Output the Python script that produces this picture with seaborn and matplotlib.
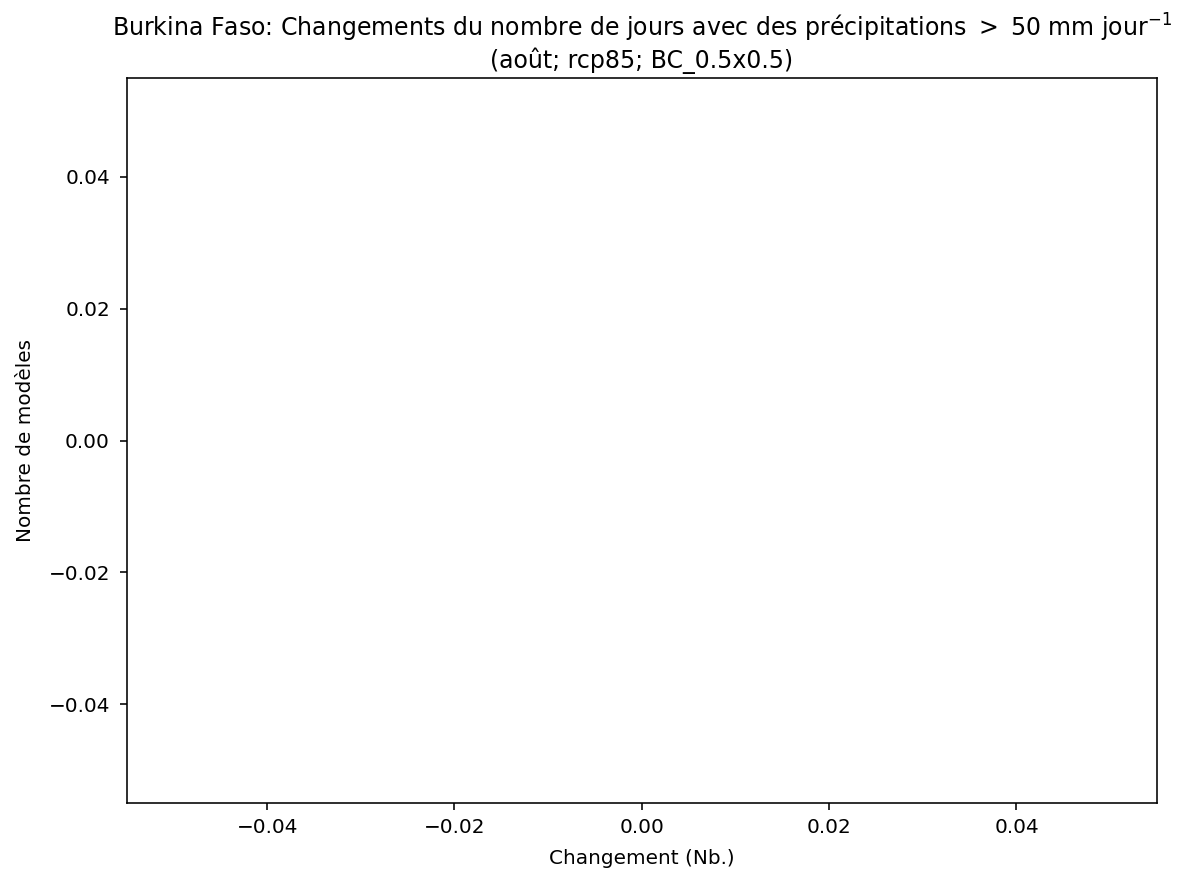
import numpy as np
import pandas as pd
import matplotlib
matplotlib.use('Agg')
import matplotlib.pyplot as plt
import seaborn as sns

# no model gives a change for this month / threshold -> empty series
changes = []
country = 'Burkina Faso'
month = 'août'
scenario = 'rcp85'
grid = 'BC_0.5x0.5'

plt.rcParams['font.family'] = ['DejaVu Sans']
plt.rcParams['axes.linewidth'] = 1.15
plt.rcParams['xtick.major.width'] = 1.15
plt.rcParams['ytick.major.width'] = 1.15
plt.rcParams['xtick.major.size'] = 5
plt.rcParams['ytick.major.size'] = 5

fig, ax = plt.subplots(figsize=(11.83, 8.71), dpi=100)
fig.subplots_adjust(left=0.107, right=0.978, top=0.9105, bottom=0.078)

df = pd.DataFrame({'change': np.array(changes, dtype=float)})
if len(df):
    sns.histplot(data=df, x='change', ax=ax)

ax.set_xlim(-0.055, 0.055)
ax.set_ylim(-0.055, 0.055)
ax.set_xticks([-0.04, -0.02, 0.0, 0.02, 0.04])
ax.set_yticks([-0.04, -0.02, 0.0, 0.02, 0.04])
ax.tick_params(axis='x', labelsize=14.4, pad=6)
ax.tick_params(axis='y', labelsize=14.4, pad=7)

ax.set_title(f'{country}: Changements du nombre de jours avec des précipitations $>$ 50 mm jour$^{{-1}}$\n'
             f'({month}; {scenario}; {grid})',
             fontsize=17, pad=7)
ax.set_xlabel('Changement (Nb.)', fontsize=14.4, labelpad=8.5)
ax.set_ylabel('Nombre de modèles', fontsize=14.4, labelpad=10)

fig.savefig('out.png', dpi=100, facecolor='white')
